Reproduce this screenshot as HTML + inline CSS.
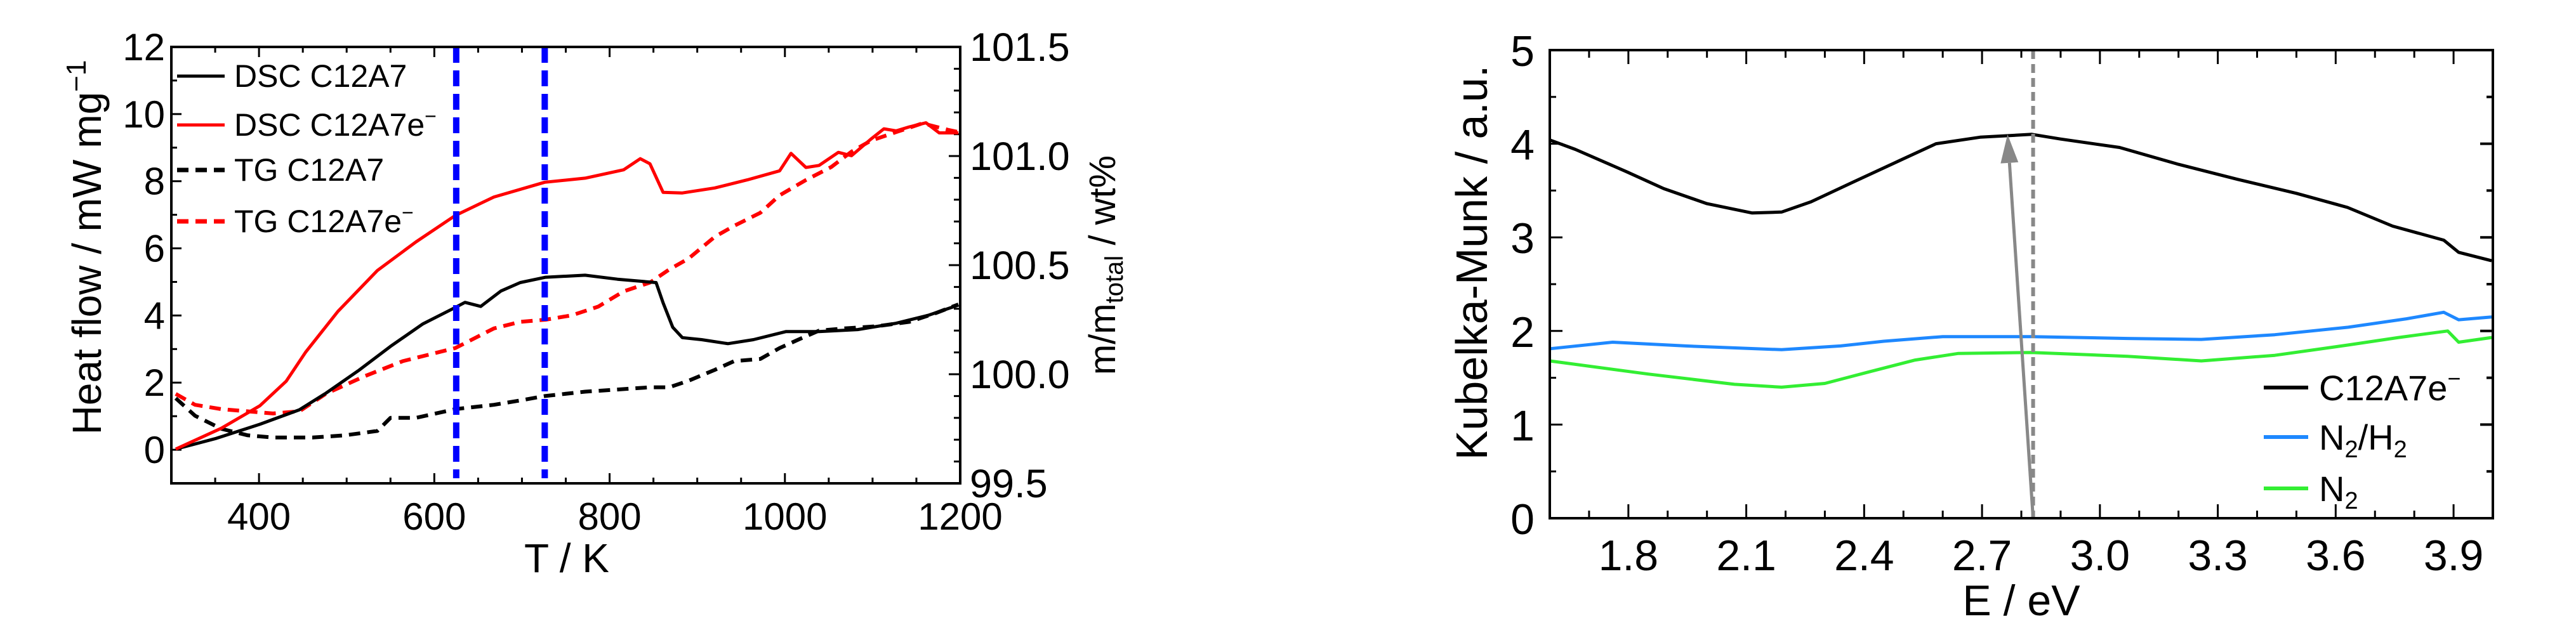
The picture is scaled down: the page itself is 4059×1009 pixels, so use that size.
<!DOCTYPE html>
<html><head><meta charset="utf-8"><style>
html,body{margin:0;padding:0;background:#fff;}
svg{display:block;font-family:"Liberation Sans",Arial,sans-serif;}
</style></head><body>
<svg id="svg" width="4059" height="1009" viewBox="0 0 4059 1009" xmlns="http://www.w3.org/2000/svg">
<g id="left"></g>
<g id="right"></g>
</svg>
<script>
// ---- Left chart data ----
const dscC12A7T = [305,350,401,446,476,513,550,587,624,635,653,676,698,727,772,809,853,861,872,883,905,935,964,1001,1039,1083,1127,1164,1198];
const dscC12A7V = [0.02,0.33,0.76,1.19,1.68,2.35,3.08,3.75,4.24,4.39,4.27,4.73,4.98,5.14,5.20,5.08,4.98,4.38,3.65,3.34,3.28,3.16,3.28,3.52,3.52,3.58,3.77,4.01,4.31];
const dscC12A7eT = [305,357,401,431,453,490,535,579,624,668,726,772,816,835,846,861,883,920,957,994,1007,1024,1039,1061,1076,1098,1113,1127,1142,1161,1176,1198];
const dscC12A7eV = [0.02,0.64,1.31,2.04,2.90,4.12,5.34,6.19,6.98,7.53,7.97,8.09,8.34,8.67,8.52,7.67,7.65,7.80,8.04,8.31,8.83,8.41,8.47,8.86,8.76,9.25,9.56,9.50,9.62,9.74,9.44,9.44];
const tgC12A7T = [305,327,357,387,416,461,498,535,550,579,624,668,698,726,772,809,846,868,890,920,942,972,994,1016,1039,1068,1105,1142,1172,1198];
const tgC12A7V = [99.89,99.81,99.75,99.72,99.71,99.71,99.72,99.74,99.80,99.80,99.84,99.86,99.88,99.90,99.92,99.93,99.94,99.94,99.97,100.02,100.06,100.07,100.12,100.16,100.20,100.21,100.22,100.24,100.28,100.32];
const tgC12A7eT = [305,327,357,387,416,446,476,520,564,624,668,698,727,757,787,816,846,868,890,920,942,972,994,1024,1053,1076,1098,1127,1157,1186,1198];
const tgC12A7eV = [99.91,99.86,99.84,99.83,99.82,99.83,99.91,99.99,100.06,100.12,100.21,100.24,100.25,100.27,100.31,100.38,100.42,100.48,100.53,100.63,100.68,100.74,100.82,100.89,100.95,101.02,101.07,101.11,101.15,101.12,101.11];
const markerT = [625,726];
const xTicksL = [400,600,800,1000,1200];
const yTicksL = [0,2,4,6,8,10,12];
const y2TicksL = ["99.5","100.0","100.5","101.0","101.5"];
// ---- Right chart data ----
const kmE = [1.60,1.665,1.796,1.89,2.00,2.115,2.19,2.265,2.377,2.49,2.583,2.695,2.827,2.90,3.05,3.20,3.35,3.50,3.63,3.745,3.875,3.913,3.997];
const kmC12A7e = [4.04,3.94,3.70,3.52,3.36,3.26,3.27,3.38,3.60,3.82,4.00,4.07,4.10,4.05,3.96,3.78,3.62,3.47,3.32,3.12,2.97,2.84,2.75];
const n2h2E = [1.60,1.76,1.946,2.19,2.34,2.45,2.60,2.827,3.07,3.258,3.445,3.632,3.78,3.875,3.913,3.997];
const n2h2V = [1.81,1.88,1.84,1.80,1.84,1.89,1.94,1.94,1.92,1.91,1.96,2.04,2.13,2.20,2.12,2.15];
const n2E = [1.60,1.85,2.07,2.19,2.30,2.41,2.53,2.64,2.827,3.07,3.258,3.445,3.632,3.76,3.885,3.913,3.997];
const n2V = [1.68,1.54,1.43,1.40,1.44,1.56,1.69,1.76,1.77,1.73,1.68,1.74,1.85,1.93,2.00,1.88,1.93];
const peakE = [2.83];
const arrowE = [2.83,2.765];
const arrowV = [0,4.10];
const xTicksR = ["1.8","2.1","2.4","2.7","3.0","3.3","3.6","3.9"];
const yTicksR = [0,1,2,3,4,5];

const NS="http://www.w3.org/2000/svg";
function mk(parent,tag,attrs,txt){const e=document.createElementNS(NS,tag);for(const k in attrs)e.setAttribute(k,attrs[k]);if(txt!==undefined)e.textContent=txt;parent.appendChild(e);return e;}
function pathD(xs,ys,fx,fy){return xs.map((x,i)=>(i?'L':'M')+fx(x).toFixed(1)+' '+fy(ys[i]).toFixed(1)).join(' ');}

// ===== Left chart =====
const L=document.getElementById('left');
const lx0=270,lx1=1513,ly0=74,ly1=762;
const lX=t=>lx0+(t-300)/(1200-300)*(lx1-lx0);
const lY=v=>ly1-(v-(-1))/(12-(-1))*(ly1-ly0);
const lY2=v=>ly1-(v-99.5)/(101.5-99.5)*(ly1-ly0);
let e;
// ticks
for(let t=350;t<1200;t+=50){const maj=t%200===0;const len=maj?16:9;
 e=mk(L,'line',{x1:lX(t),x2:lX(t),y1:ly1,y2:ly1-len,stroke:'#000','stroke-width':3});
 
 e=mk(L,'line',{x1:lX(t),x2:lX(t),y1:ly0,y2:ly0+len,stroke:'#000','stroke-width':3});
 }
for(let v=0;v<12;v+=1){const len=v%2===0?16:9;
 e=mk(L,'line',{x1:lx0,x2:lx0+len,y1:lY(v),y2:lY(v),stroke:'#000','stroke-width':3});
 }
for(let k=1;k<20;k++){const v=99.5+k*0.1;const len=k%5===0?18:10;
 e=mk(L,'line',{x1:lx1,x2:lx1-len,y1:lY2(v),y2:lY2(v),stroke:'#000','stroke-width':3});
 }
// labels
xTicksL.forEach(t=>{e=mk(L,'text',{x:lX(t),y:835,'font-size':60,'text-anchor':'middle'},String(t));
 });
yTicksL.forEach(v=>{e=mk(L,'text',{x:260,y:lY(v)+21,'font-size':60,'text-anchor':'end'},String(v));
 });
y2TicksL.forEach(s=>{e=mk(L,'text',{x:1528,y:lY2(parseFloat(s))+22,'font-size':63,'text-anchor':'start'},s);
 });
// series
function series(parent,xs,ys,fx,fy,color,dash,name,w){const p=mk(parent,'path',{d:pathD(xs,ys,fx,fy),fill:'none',stroke:color,'stroke-width':w||5,'stroke-linejoin':'round'});if(dash)p.setAttribute('stroke-dasharray',dash);
 
 }
series(L,tgC12A7T,tgC12A7V,lX,lY2,'#000','18 11','tg-c12a7-line',6);
series(L,tgC12A7eT,tgC12A7eV,lX,lY2,'#ff0000','18 11','tg-c12a7e-line',6);
series(L,dscC12A7T,dscC12A7V,lX,lY,'#000',null,'dsc-c12a7-line');
series(L,dscC12A7eT,dscC12A7eV,lX,lY,'#ff0000',null,'dsc-c12a7e-line');
markerT.forEach(t=>{e=mk(L,'line',{x1:lX(t),x2:lX(t),y1:ly0,y2:ly1-8,stroke:'#0000ff','stroke-width':10,'stroke-dasharray':'25 12'});
 });
e=mk(L,'rect',{x:lx0,y:ly0,width:lx1-lx0,height:ly1-ly0,fill:'none',stroke:'#000','stroke-width':4});

// legend
const legL=[['DSC C12A7','#000',null,''],['DSC C12A7e','#ff0000',null,'−'],['TG C12A7','#000','18 11',''],['TG C12A7e','#ff0000','18 11','−']];
const legY=[120,197,268,349];
legL.forEach((l,i)=>{const g=mk(L,'g',{});
 const ln=mk(g,'line',{x1:279,x2:354,y1:legY[i],y2:legY[i],stroke:l[1],'stroke-width':l[2]?7:5});if(l[2])ln.setAttribute('stroke-dasharray',l[2]);
 const tx=mk(g,'text',{x:369,y:legY[i]+17,'font-size':50},l[0]);
 if(l[3]){mk(tx,'tspan',{'font-size':32,dy:-20},l[3]);}});
// axis titles
e=mk(L,'text',{x:0,y:0,'font-size':64,'text-anchor':'middle',transform:'translate(159,390) rotate(-90)'});

e.appendChild(document.createTextNode('Heat flow / mW mg'));mk(e,'tspan',{'font-size':44,dy:-24},'−1');
e=mk(L,'text',{x:0,y:0,'font-size':58,'text-anchor':'middle',transform:'translate(1757,418) rotate(-90)'});

e.appendChild(document.createTextNode('m/m'));mk(e,'tspan',{'font-size':40,dy:12},'total');mk(e,'tspan',{dy:-12},' / wt%');
e=mk(L,'text',{x:893,y:902,'font-size':64,'text-anchor':'middle'},'T / K');


// ===== Right chart =====
const R=document.getElementById('right');
const rx0=2442,rx1=3928,ry0=79,ry1=817;
const rX=v=>rx0+(v-1.6)/(4.0-1.6)*(rx1-rx0);
const rY=v=>ry1-v/5*(ry1-ry0);
for(let k=1;k<24;k++){const v=1.6+k*0.1;const maj=(k-2)%3===0;const len=maj?22:12;
 e=mk(R,'line',{x1:rX(v),x2:rX(v),y1:ry1,y2:ry1-len,stroke:'#000','stroke-width':3});
 
 e=mk(R,'line',{x1:rX(v),x2:rX(v),y1:ry0,y2:ry0+len,stroke:'#000','stroke-width':3});
 }
for(let k=1;k<10;k++){const v=k*0.5;const len=k%2===0?20:10;
 e=mk(R,'line',{x1:rx0,x2:rx0+len,y1:rY(v),y2:rY(v),stroke:'#000','stroke-width':3});
 
 e=mk(R,'line',{x1:rx1,x2:rx1-len,y1:rY(v),y2:rY(v),stroke:'#000','stroke-width':4});
 }
xTicksR.forEach(s=>{e=mk(R,'text',{x:rX(parseFloat(s)),y:899,'font-size':68,'text-anchor':'middle'},s);
 });
yTicksR.forEach(v=>{e=mk(R,'text',{x:2418,y:rY(v)+25,'font-size':68,'text-anchor':'end'},String(v));
 });
series(R,n2E,n2V,rX,rY,'#33ee33',null,'n2-line');
series(R,n2h2E,n2h2V,rX,rY,'#1e88ff',null,'n2-h2-line');
series(R,kmE,kmC12A7e,rX,rY,'#000',null,'c12a7e-line');
peakE.forEach(v=>{e=mk(R,'line',{x1:rX(v),x2:rX(v),y1:ry0,y2:ry1,stroke:'#888','stroke-width':6,'stroke-dasharray':'14 8'});
 });
// arrow
const ax0=rX(arrowE[0]),ay0=rY(arrowV[0]),ax1=rX(arrowE[1]),ay1=rY(arrowV[1]);
const ang=Math.atan2(ay1-ay0,ax1-ax0),hl=45,hw=14;
const bx=ax1-hl*Math.cos(ang),by=ay1-hl*Math.sin(ang);
e=mk(R,'line',{x1:ax0,y1:ay0,x2:bx,y2:by,stroke:'#888','stroke-width':5});

e=mk(R,'polygon',{points:`${ax1},${ay1} ${bx-hw*Math.sin(ang)},${by+hw*Math.cos(ang)} ${bx+hw*Math.sin(ang)},${by-hw*Math.cos(ang)}`,fill:'#888'});

e=mk(R,'rect',{x:rx0,y:ry0,width:rx1-rx0,height:ry1-ry0,fill:'none',stroke:'#000','stroke-width':4});

// legend
const legR=[['#000',611],['#1e88ff',689],['#33ee33',770]];
legR.forEach((l,i)=>{const g=mk(R,'g',{});
 mk(g,'line',{x1:3567,x2:3637,y1:l[1],y2:l[1],stroke:l[0],'stroke-width':6});
 const t=mk(g,'text',{x:3654,y:l[1]+20,'font-size':56});
 if(i===0){t.appendChild(document.createTextNode('C12A7e'));mk(t,'tspan',{'font-size':36,dy:-22},'−');}
 if(i===1){t.appendChild(document.createTextNode('N'));mk(t,'tspan',{'font-size':38,dy:12},'2');mk(t,'tspan',{dy:-12},'/H');mk(t,'tspan',{'font-size':38,dy:12},'2');}
 if(i===2){t.appendChild(document.createTextNode('N'));mk(t,'tspan',{'font-size':38,dy:12},'2');}});
e=mk(R,'text',{x:0,y:0,'font-size':70,'text-anchor':'middle',transform:'translate(2343,414) rotate(-90)'},'Kubelka-Munk / a.u.');

e=mk(R,'text',{x:rX(2.8),y:970,'font-size':68,'text-anchor':'middle'},'E / eV');

</script>
</body></html>
